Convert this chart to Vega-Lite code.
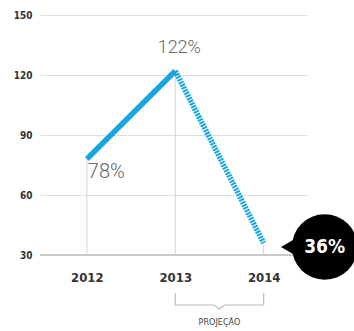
{
  "$schema": "https://vega.github.io/schema/vega-lite/v6.json",
  "autosize": "none",
  "width": 267,
  "height": 240,
  "padding": {"left": 40, "top": 15, "right": 47, "bottom": 76},
  "background": "white",
  "config": {"view": {"stroke": null}},
  "datasets": {
    "pts": [
      {"year": 2012, "value": 78, "label": "78%"},
      {"year": 2013, "value": 122, "label": "122%"},
      {"year": 2014, "value": 36, "label": "36%"}
    ],
    "segs": [
      {"year": 2012, "value": 78, "seg": "real"},
      {"year": 2013, "value": 122, "seg": "real"},
      {"year": 2013, "value": 122, "seg": "proj"},
      {"year": 2014, "value": 36, "seg": "proj"}
    ],
    "bracket": [
      {"i": 1, "year": 2013, "value": 11},
      {"i": 2, "year": 2013, "value": 5},
      {"i": 3, "year": 2013.44, "value": 5},
      {"i": 4, "year": 2013.5, "value": 3},
      {"i": 5, "year": 2013.56, "value": 5},
      {"i": 6, "year": 2014, "value": 5},
      {"i": 7, "year": 2014, "value": 11}
    ],
    "note": [{"year": 2013.5, "value": -3.5, "label": "PROJEÇÃO"}]
  },
  "layer": [
    {
      "data": {"name": "pts"},
      "mark": {"type": "rule", "color": "#d4d4d4", "strokeWidth": 1},
      "encoding": {
        "x": {"field": "year", "type": "quantitative", "scale": {"domain": [2011.47, 2014.49], "nice": false, "zero": false},
          "axis": {"values": [2012, 2013, 2014], "format": "d", "title": null, "grid": false, "ticks": false, "domain": false,
            "labelFont": "DejaVu Sans Condensed", "labelFontWeight": "bold", "labelFontSize": 13, "labelColor": "#333", "labelPadding": 16}},
        "y": {"field": "value", "type": "quantitative", "scale": {"domain": [30, 150], "nice": false, "zero": false},
          "axis": {"values": [30, 60, 90, 120, 150], "title": null, "grid": true, "gridColor": "#dedede", "ticks": false, "domain": false,
            "labelFont": "DejaVu Sans Condensed", "labelFontWeight": "bold", "labelFontSize": 10, "labelColor": "#333", "labelPadding": 8}},
        "y2": {"datum": 30}
      }
    },
    {
      "data": {"name": "pts"},
      "mark": {"type": "rule", "color": "#c8c8c8", "strokeWidth": 1.5},
      "encoding": {"y": {"datum": 30}}
    },
    {
      "data": {"name": "segs"},
      "mark": {"type": "line", "strokeWidth": 5.5, "strokeCap": "butt", "color": "#17a6e0"},
      "encoding": {
        "x": {"field": "year", "type": "quantitative"},
        "y": {"field": "value", "type": "quantitative"},
        "detail": {"field": "seg"},
        "strokeDash": {"field": "seg", "type": "nominal", "scale": {"domain": ["real", "proj"], "range": [[1, 0], [2, 1]]}, "legend": null}
      }
    },
    {
      "data": {"name": "pts"},
      "transform": [{"filter": "datum.year == 2012"}],
      "mark": {"type": "text", "align": "left", "baseline": "middle", "dx": 1, "dy": 13, "font": "Roboto", "fontWeight": 300, "fontSize": 20, "color": "#666"},
      "encoding": {"x": {"field": "year", "type": "quantitative"}, "y": {"field": "value", "type": "quantitative"}, "text": {"field": "label"}}
    },
    {
      "data": {"name": "pts"},
      "transform": [{"filter": "datum.year == 2013"}],
      "mark": {"type": "text", "align": "center", "baseline": "middle", "dx": 4, "dy": -23, "font": "Roboto", "fontWeight": 300, "fontSize": 18, "color": "#666"},
      "encoding": {"x": {"field": "year", "type": "quantitative"}, "y": {"field": "value", "type": "quantitative"}, "text": {"field": "label"}}
    },
    {
      "data": {"name": "pts"},
      "transform": [{"filter": "datum.year == 2014"}],
      "mark": {"type": "point", "shape": "triangle-left", "filled": true, "color": "black", "opacity": 1, "size": 500, "xOffset": 27, "yOffset": 4},
      "encoding": {"x": {"field": "year", "type": "quantitative"}, "y": {"field": "value", "type": "quantitative"}}
    },
    {
      "data": {"name": "pts"},
      "transform": [{"filter": "datum.year == 2014"}],
      "mark": {"type": "point", "shape": "circle", "filled": true, "color": "black", "opacity": 1, "size": 4300, "xOffset": 61, "yOffset": 4},
      "encoding": {"x": {"field": "year", "type": "quantitative"}, "y": {"field": "value", "type": "quantitative"}}
    },
    {
      "data": {"name": "pts"},
      "transform": [{"filter": "datum.year == 2014"}],
      "mark": {"type": "text", "align": "center", "baseline": "middle", "dx": 61, "dy": 4, "font": "DejaVu Sans Condensed", "fontWeight": "bold", "fontSize": 19, "color": "white"},
      "encoding": {"x": {"field": "year", "type": "quantitative"}, "y": {"field": "value", "type": "quantitative"}, "text": {"field": "label"}}
    },
    {
      "data": {"name": "bracket"},
      "mark": {"type": "line", "color": "#bbb", "strokeWidth": 1.2},
      "encoding": {"x": {"field": "year", "type": "quantitative"}, "y": {"field": "value", "type": "quantitative"}, "order": {"field": "i"}}
    },
    {
      "data": {"name": "note"},
      "mark": {"type": "text", "align": "center", "baseline": "middle", "font": "DejaVu Sans Condensed", "fontSize": 9, "color": "#444"},
      "encoding": {"x": {"field": "year", "type": "quantitative"}, "y": {"field": "value", "type": "quantitative"}, "text": {"field": "label"}}
    }
  ]
}
